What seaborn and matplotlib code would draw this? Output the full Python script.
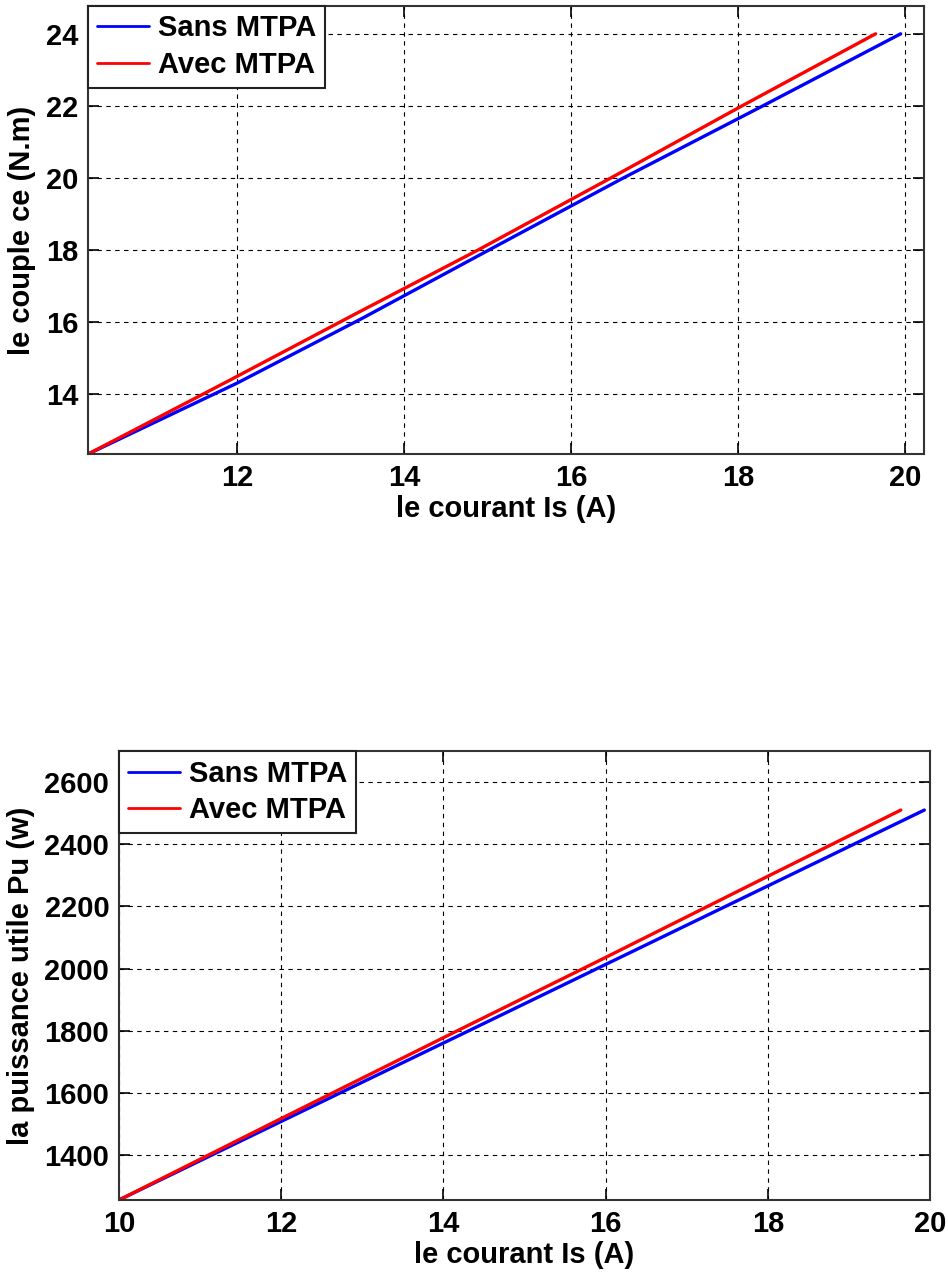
import pandas as pd
import matplotlib
matplotlib.use("Agg")
import matplotlib.pyplot as plt
import seaborn as sns

# couple ce (N.m) en fonction du courant Is (A)
couple_is_sans = [10.215, 12.0, 13.5, 15.02, 16.63, 18.3, 19.95]
couple_ce_sans = [12.33, 14.3, 16.1, 18.0, 20.0, 22.0, 24.0]
couple_is_avec = [10.215, 11.92, 13.4, 14.89, 16.48, 18.05, 19.65]
couple_ce_avec = [12.33, 14.39, 16.2, 18.0, 20.0, 22.0, 24.0]

# puissance utile Pu (w) en fonction du courant Is (A)
puiss_is_sans = [10.0, 12.05, 14.24, 16.02, 18.0, 19.93]
puiss_pu_sans = [1256, 1515, 1791, 2016, 2266, 2510]
puiss_is_avec = [10.0, 12.0, 14.17, 15.93, 17.9, 19.64]
puiss_pu_avec = [1256, 1518, 1800, 2027, 2284, 2510]

series = ["Sans MTPA", "Avec MTPA"]
couleurs = {"Sans MTPA": "#0000ff", "Avec MTPA": "#ff0000"}


def make_df(xs, ys):
    rows = []
    for nom, x, y in zip(series, xs, ys):
        rows += [{"Is": a, "val": b, "serie": nom} for a, b in zip(x, y)]
    return pd.DataFrame(rows)


sns.set_style("ticks")
plt.rcParams["font.family"] = ["Liberation Sans", "DejaVu Sans"]
plt.rcParams["font.weight"] = "bold"
plt.rcParams["font.size"] = 21
plt.rcParams["text.color"] = "black"
plt.rcParams["axes.labelcolor"] = "black"

fig = plt.figure(figsize=(9.48, 12.72), dpi=100)
ax1 = fig.add_axes([0.0928, 0.643, 0.8819, 0.3525])
ax2 = fig.add_axes([0.1255, 0.0566, 0.8555, 0.353])


def style_axes(ax, xlim, ylim, xticks, yticks, ylabel):
    ax.set_xlim(*xlim)
    ax.set_ylim(*ylim)
    ax.set_xticks(xticks)
    ax.set_yticks(yticks)
    ax.grid(True, color="black", linestyle=(0, (4, 4)), linewidth=0.8)
    ax.tick_params(direction="in", length=8, width=1.2, top=True, right=True,
                   labelsize=21, pad=7, colors="black")
    for sp in ax.spines.values():
        sp.set_color("#333333")
        sp.set_linewidth(1.5)
    ax.set_xlabel("le courant Is (A)", fontsize=21, fontweight="bold", labelpad=2)
    ax.set_ylabel(ylabel, fontsize=21, fontweight="bold", labelpad=7)
    leg = ax.legend(loc="upper left", borderaxespad=0, fancybox=False,
                    framealpha=1, edgecolor="#222222", fontsize=21,
                    handlelength=1.8, handletextpad=0.3, borderpad=0.3,
                    labelspacing=0.3)
    leg.get_frame().set_linewidth(1.5)
    for line in leg.get_lines():
        line.set_linewidth(2)


df1 = make_df([couple_is_sans, couple_is_avec], [couple_ce_sans, couple_ce_avec])
sns.lineplot(data=df1, x="Is", y="val", hue="serie", palette=couleurs,
             sort=False, estimator=None, linewidth=2.4, ax=ax1)
style_axes(ax1, (10.215, 20.23), (12.33, 24.78), [12, 14, 16, 18, 20],
           [14, 16, 18, 20, 22, 24], "le couple ce (N.m)")

df2 = make_df([puiss_is_sans, puiss_is_avec], [puiss_pu_sans, puiss_pu_avec])
sns.lineplot(data=df2, x="Is", y="val", hue="serie", palette=couleurs,
             sort=False, estimator=None, linewidth=2.4, ax=ax2)
style_axes(ax2, (10, 20), (1256, 2700), [10, 12, 14, 16, 18, 20],
           [1400, 1600, 1800, 2000, 2200, 2400, 2600], "la puissance utile Pu (w)")

fig.savefig("out.png", dpi=100)
